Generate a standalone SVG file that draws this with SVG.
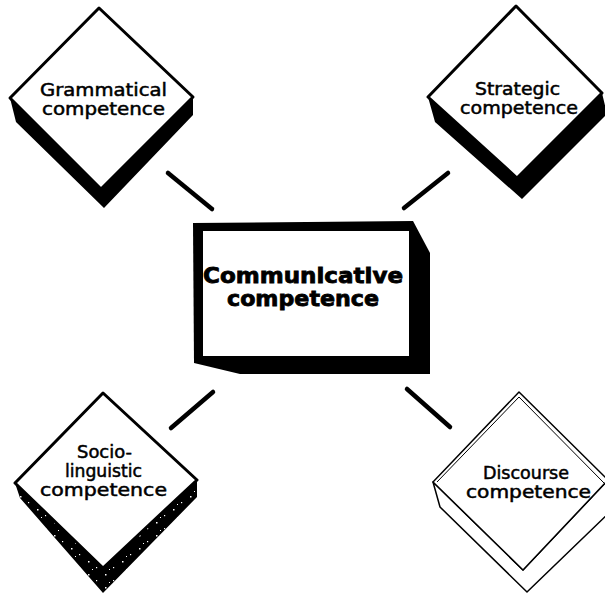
<svg xmlns="http://www.w3.org/2000/svg" width="605" height="593" viewBox="0 0 605 593">
  <defs>
    <style>
      .face { fill: #fff; stroke: #000; stroke-width: 3; stroke-linejoin: round; }
      .thin { fill: #fff; stroke: #000; stroke-width: 1.5; stroke-linejoin: round; }
      .shadow { fill: #000; }
      .lbl { font-family: "DejaVu Sans", "Liberation Sans", sans-serif; font-size: 17px; fill: #000; stroke: #000; stroke-width: 0.5; text-anchor: middle; }
      .main { font-family: "DejaVu Sans", "Liberation Sans", sans-serif; font-weight: bold; font-size: 21px; fill: #000; stroke: #000; stroke-width: 0.8; text-anchor: middle; }
      .link { stroke: #000; stroke-width: 4.5; stroke-linecap: round; }
    </style>
    <!-- speckled dark fill for the lower-left block -->
    <pattern id="speckle" width="17" height="13" patternUnits="userSpaceOnUse">
      <rect width="17" height="13" fill="#000"/>
      <rect x="3" y="2" width="1.5" height="1.5" fill="#fff"/>
      <rect x="11" y="8" width="1.2" height="1.2" fill="#fff"/>
      <rect x="7" y="10" width="1" height="1" fill="#fff"/>
    </pattern>
  </defs>

  <rect width="605" height="593" fill="#fff"/>

  <!-- connectors -->
  <g id="connectors">
    <line class="link" x1="168" y1="173" x2="212" y2="209"/>
    <line class="link" x1="404" y1="208" x2="448" y2="173"/>
    <line class="link" x1="171" y1="428" x2="213" y2="392"/>
    <line class="link" x1="407" y1="389" x2="450" y2="427"/>
  </g>

  <!-- Grammatical competence -->
  <g id="grammatical">
    <polygon class="shadow" points="10,98 16,122 104,208 193,115 193,97 101,189"/>
    <polygon class="face" points="99,8 10,98 101,189 193,97"/>
    <text class="lbl" x="103.5" y="96" textLength="127" lengthAdjust="spacingAndGlyphs">Grammatical</text>
    <text class="lbl" x="103.5" y="115" textLength="123" lengthAdjust="spacingAndGlyphs">competence</text>
  </g>

  <!-- Strategic competence -->
  <g id="strategic">
    <polygon class="shadow" points="428,97 435,122 522,199 607,114 602,93 517,178"/>
    <polygon class="face" points="516,6 428,97 517,178 602,93"/>
    <text class="lbl" x="517.5" y="95" textLength="85" lengthAdjust="spacingAndGlyphs">Strategic</text>
    <text class="lbl" x="519" y="114" textLength="118" lengthAdjust="spacingAndGlyphs">competence</text>
  </g>

  <!-- Communicative competence -->
  <g id="communicative">
    <polygon class="shadow" points="193,223 413,221 430,253 430,374 240,374 194,363"/>
    <rect x="203" y="231" width="206" height="125" fill="#fff"/>
    <text class="main" x="303" y="283" textLength="200" lengthAdjust="spacingAndGlyphs">Communicative</text>
    <text class="main" x="303" y="306" textLength="152" lengthAdjust="spacingAndGlyphs">competence</text>
  </g>

  <!-- Sociolinguistic competence -->
  <g id="sociolinguistic">
    <polygon fill="url(#speckle)" points="15,483 20,498 103,593 197,497 197,480 103,568"/>
    <polygon class="face" points="103,393 15,483 103,568 197,480"/>
    <text class="lbl" x="104.5" y="458" textLength="55" lengthAdjust="spacingAndGlyphs">Socio-</text>
    <text class="lbl" x="103.5" y="477" textLength="77" lengthAdjust="spacingAndGlyphs">linguistic</text>
    <text class="lbl" x="103.5" y="496" textLength="127" lengthAdjust="spacingAndGlyphs">competence</text>
  </g>

  <!-- Discourse competence -->
  <g id="discourse">
    <polygon class="thin" points="433,482 440,507 527,592 610,512 608,480 523,570"/>
    <polygon class="thin" points="519,392 433,482 523,570 608,480"/>
    <polyline fill="none" stroke="#000" stroke-width="1" points="437,482 519,397 605,484"/>
    <text class="lbl" x="526" y="479" textLength="86" lengthAdjust="spacingAndGlyphs">Discourse</text>
    <text class="lbl" x="528.5" y="498" textLength="125" lengthAdjust="spacingAndGlyphs">competence</text>
  </g>
</svg>
